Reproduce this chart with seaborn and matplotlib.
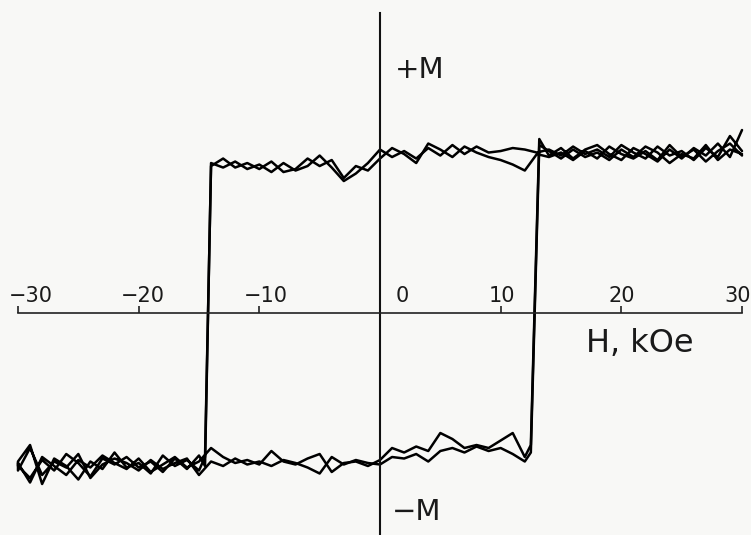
import numpy as np
import pandas as pd
import matplotlib
matplotlib.use("Agg")
import matplotlib.pyplot as plt
import seaborn as sns

# ---------------- data ----------------
# upper branch, descending field (30 -> -14 kOe)
H_up_desc = [30, 29, 28, 27, 26, 25, 24, 23, 22, 21, 20, 19, 18, 17, 16, 15, 14, 13,
             12, 11, 10, 9, 8, 7, 6, 5, 4, 3, 2, 1, 0, -1, -2, -3, -4, -5, -6, -7,
             -8, -9, -10, -11, -12, -13, -14]
M_up_desc_a = [1.08, 1.18, 1.04, 1.10, 1.02, 1.08, 1.05, 1.11, 1.03, 1.07, 1.12, 1.04,
               1.09, 1.06, 1.11, 1.05, 1.09, 1.07, 1.09, 1.10, 1.08, 1.07, 1.11, 1.06,
               1.12, 1.05, 1.10, 1.03, 1.08, 1.04, 1.09, 1.00, 0.93, 0.88, 0.97, 1.05,
               0.98, 0.95, 1.00, 0.94, 0.99, 0.96, 1.01, 0.97, 1.00]
M_up_desc_b = [1.05, 1.13, 1.08, 1.01, 1.09, 1.04, 1.12, 1.02, 1.08, 1.03, 1.06, 1.11,
               1.03, 1.08, 1.02, 1.07, 1.04, 1.06, 0.95, 0.99, 1.02, 1.04, 1.07, 1.11,
               1.04, 1.09, 1.13, 1.00, 1.06, 1.10, 1.03, 0.95, 0.98, 0.90, 1.02, 0.98,
               1.03, 0.96, 0.94, 1.01, 0.96, 1.00, 0.97, 1.03, 0.98]

# lower branch, descending field (-14.5 -> -30 kOe)
H_low_desc = [-14.5, -15, -16, -17, -18, -19, -20, -21, -22, -23, -24, -25, -26,
              -27, -28, -29, -30]
M_low_desc_a = [-1.02, -0.95, -1.04, -0.97, -1.06, -0.99, -1.03, -0.96, -1.01, -0.97,
                -1.09, -1.00, -0.94, -1.05, -0.98, -1.10, -1.02]
M_low_desc_b = [-0.96, -1.05, -0.98, -1.02, -0.95, -1.07, -1.00, -1.03, -0.93, -1.04,
                -0.99, -1.11, -1.02, -0.97, -1.14, -0.88, -0.99]

# lower branch, ascending field (-30 -> 12.5 kOe)
H_low_asc = [-30, -29, -28, -27, -26, -25, -24, -23, -22, -21, -20, -19, -18, -17,
             -16, -15, -14, -13, -12, -11, -10, -9, -8, -7, -6, -5, -4, -3, -2, -1,
             0, 1, 2, 3, 4, 5, 6, 7, 8, 9, 10, 11, 12, 12.5]
M_low_asc_a = [-1.00, -1.13, -0.96, -1.02, -1.08, -0.98, -1.03, -0.95, -1.00, -1.04,
               -0.97, -1.06, -1.01, -0.96, -1.03, -0.99, -0.90, -0.96, -1.00, -0.98,
               -1.01, -0.92, -0.99, -1.01, -0.97, -0.94, -1.06, -1.00, -0.99, -1.02,
               -0.98, -0.90, -0.93, -0.89, -0.92, -0.80, -0.84, -0.90, -0.88, -0.90,
               -0.85, -0.80, -0.96, -0.88]
M_low_asc_b = [-1.05, -0.90, -1.08, -0.99, -1.03, -0.94, -1.10, -1.01, -0.97, -1.00,
               -1.05, -0.98, -1.04, -1.00, -0.97, -1.08, -0.99, -1.02, -0.97, -1.01,
               -0.99, -1.02, -0.98, -1.00, -1.03, -1.07, -0.96, -1.01, -0.98, -1.00,
               -1.01, -0.96, -0.97, -0.94, -0.99, -0.92, -0.90, -0.93, -0.89, -0.92,
               -0.90, -0.94, -0.99, -0.93]

# upper branch, ascending field (13.2 -> 30 kOe)
H_up_asc = [13.2, 14, 15, 16, 17, 18, 19, 20, 21, 22, 23, 24, 25, 26, 27, 28, 29, 30]
M_up_asc_a = [1.16, 1.05, 1.10, 1.03, 1.09, 1.12, 1.06, 1.02, 1.10, 1.06, 1.01, 1.09,
              1.03, 1.10, 1.05, 1.13, 1.04, 1.22]
M_up_asc_b = [1.12, 1.08, 1.03, 1.09, 1.04, 1.07, 1.02, 1.09, 1.04, 1.11, 1.07, 1.00,
              1.06, 1.03, 1.12, 1.02, 1.09, 1.06]

tick_values = [-30, -20, -10, 0, 10, 20, 30]
tick_labels = ["\u221230", "\u221220", "\u221210", "0", "10", "20", "30"]

# ---------------- build table ----------------
rows = []
for loop, parts in (("A", (M_up_desc_a, M_low_desc_a, M_low_asc_a, M_up_asc_a)),
                    ("B", (M_up_desc_b, M_low_desc_b, M_low_asc_b, M_up_asc_b))):
    order = 0
    for Hs, Ms in zip((H_up_desc, H_low_desc, H_low_asc, H_up_asc), parts):
        for h, m in zip(Hs, Ms):
            rows.append({"loop": loop, "order": order, "H": h, "M": m})
            order += 1
df = pd.DataFrame(rows)

# ---------------- figure ----------------
sns.set_theme(style="white")
plt.rcParams["font.family"] = ["DejaVu Sans"]
bg = "#f8f8f6"
fig = plt.figure(figsize=(7.51, 5.35), dpi=100, facecolor=bg)
ax = fig.add_axes([0, 0, 1, 1], facecolor=bg)

sns.lineplot(data=df, x="H", y="M", units="loop", estimator=None, sort=False,
             color="black", linewidth=1.8, ax=ax, legend=False)

ax.set_xlim(-31.49, 30.745)
ax.set_ylim(-1.48, 2.087)

for s in ("top", "right"):
    ax.spines[s].set_visible(False)
ax.spines["bottom"].set_position(("data", 0))
ax.spines["bottom"].set_bounds(-30, 30)
ax.spines["bottom"].set_linewidth(1.2)
ax.spines["bottom"].set_color("#222222")
ax.spines["left"].set_position(("data", 0))
ax.spines["left"].set_bounds(-1.48, 2.0)
ax.spines["left"].set_linewidth(1.5)
ax.spines["left"].set_color("#111111")

ax.set_xticks(tick_values)
ax.set_xticklabels([])
ax.set_yticks([])
ax.tick_params(axis="x", direction="in", length=5, width=1.2, color="#222222",
               bottom=True, labelbottom=False)
ax.set_xlabel("")
ax.set_ylabel("")

txt = dict(color="#1a1a1a", fontweight="normal")
label_shift = [1.08, 0.36, 0.55, 1.82, 0.11, 0.05, -0.33]
for v, lab, dx in zip(tick_values, tick_labels, label_shift):
    ax.text(v + dx, 0.075, lab, ha="center", va="baseline", fontsize=15, **txt)

ax.text(3.31, 1.567, "+M", ha="center", va="baseline", fontsize=21, **txt)
ax.text(3.07, -1.38, "\u2212M", ha="center", va="baseline", fontsize=21, **txt)
ax.text(21.55, -0.26, "H, kOe", ha="center", va="baseline", fontsize=23, **txt)

fig.savefig("out.png", dpi=100, facecolor=bg)
